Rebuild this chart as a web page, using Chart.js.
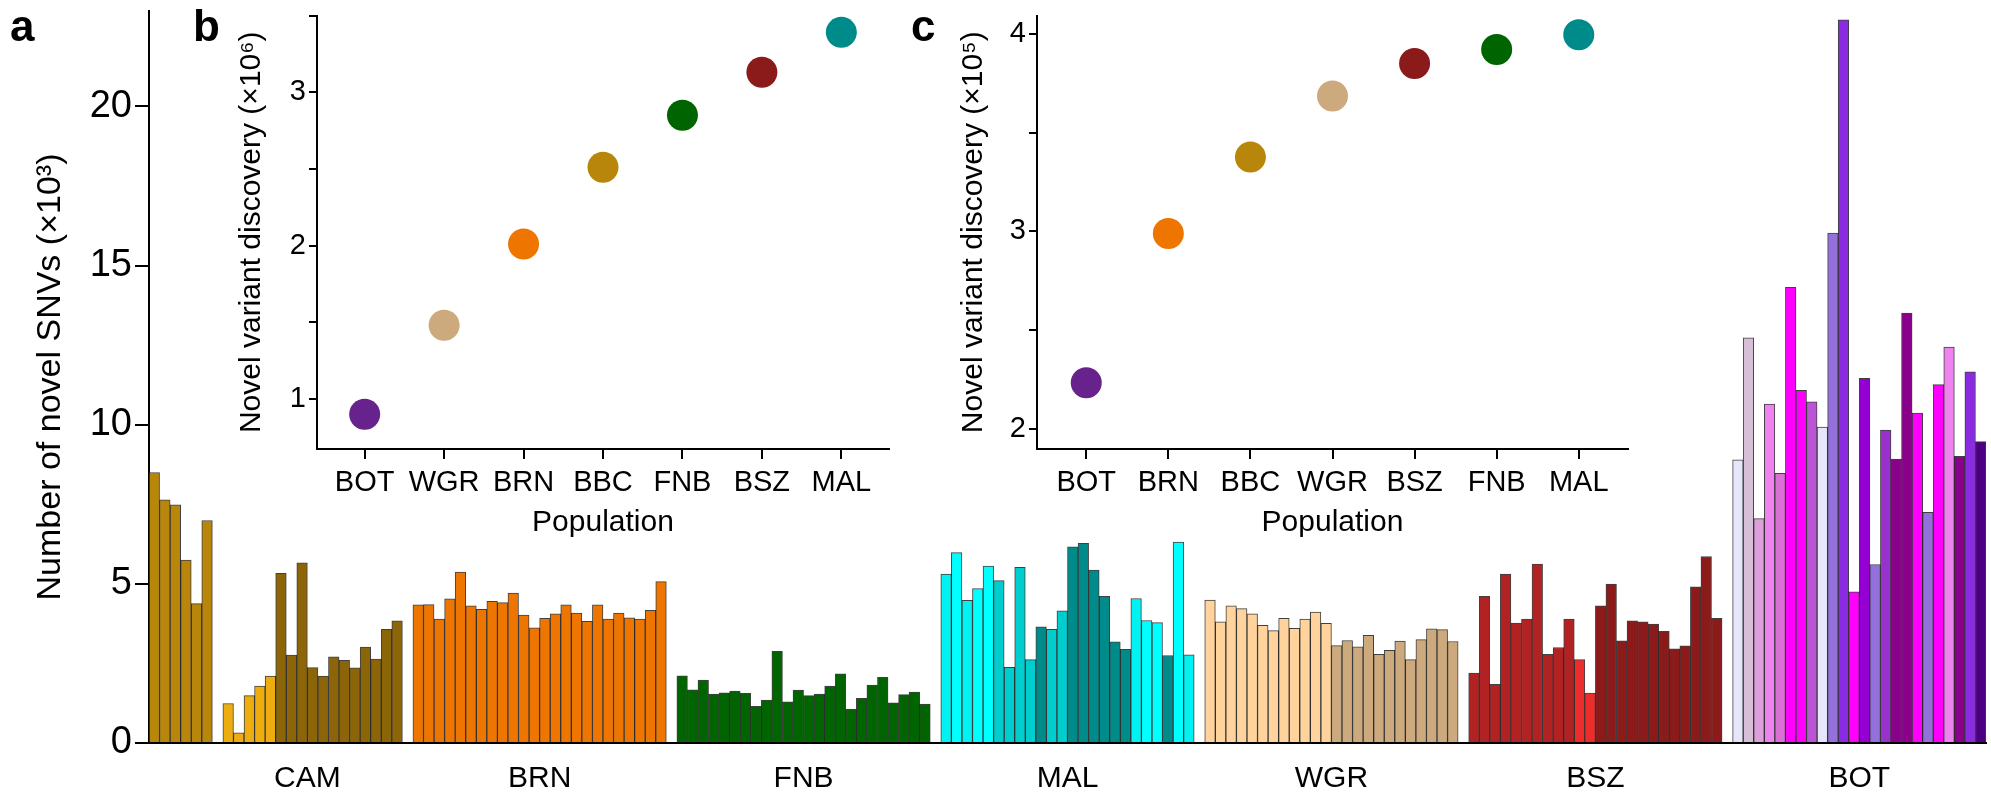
<!DOCTYPE html>
<html>
<head>
<meta charset="utf-8">
<script src="https://cdn.jsdelivr.net/npm/chart.js@4.4.0/dist/chart.umd.min.js"></script>
<style>
    body { margin: 0; background: #fff; }
    #wrap { position: relative; width: 1991px; height: 800px; overflow: hidden; }
    #wrap canvas { position: absolute; left: 0; top: 0; }
    .panel { position: absolute; font: bold 44px "Liberation Sans", Arial, sans-serif; color: #000; line-height: 44px; }
</style>
</head>
<body>
<div id="wrap">
    <canvas id="chartA" width="1991" height="800"></canvas>
    <canvas id="chartB" width="1991" height="800"></canvas>
    <canvas id="chartC" width="1991" height="800"></canvas>
    <div class="panel" style="left:10px; top:4px;">a</div>
    <div class="panel" style="left:193px; top:4px;">b</div>
    <div class="panel" style="left:911px; top:4px;">c</div>
</div>
<script>
// Painel a - SNVs novos por individuo (x10^3), null = espaço dentro do grupo
const grupos = ['CAM', 'BRN', 'FNB', 'MAL', 'WGR', 'BSZ', 'BOT'];
const valoresCAM = [8.50, 7.64, 7.48, 5.75, 4.38, 6.99, null, 1.24, 0.32, 1.49, 1.79, 2.10, 5.33, 2.76, 5.66, 2.37, 2.10, 2.71, 2.60, 2.36, 3.01, 2.64, 3.57, 3.84];
const valoresBRN = [4.34, 4.35, 3.89, 4.53, 5.37, 4.31, 4.20, 4.45, 4.41, 4.71, 4.02, 3.62, 3.92, 4.06, 4.34, 4.08, 3.82, 4.34, 3.89, 4.08, 3.93, 3.89, 4.17, 5.07];
const valoresFNB = [2.11, 1.67, 1.98, 1.54, 1.58, 1.63, 1.56, 1.15, 1.35, 2.88, 1.29, 1.66, 1.49, 1.54, 1.79, 2.17, 1.06, 1.40, 1.82, 2.06, 1.26, 1.52, 1.60, 1.22];
const valoresMAL = [5.31, 5.98, 4.48, 4.85, 5.56, 5.10, 2.38, 5.52, 2.62, 3.65, 3.57, 4.15, 6.16, 6.27, 5.43, 4.61, 3.18, 2.94, 4.54, 3.85, 3.78, 2.75, 6.31, 2.77];
const valoresWGR = [4.49, 3.81, 4.31, 4.22, 4.06, 3.70, 3.53, 3.92, 3.60, 3.89, 4.11, 3.76, 3.06, 3.22, 3.02, 3.38, 2.79, 2.91, 3.20, 2.62, 3.25, 3.59, 3.56, 3.19];
const valoresBSZ = [2.20, 4.61, 1.84, 5.31, 3.77, 3.89, 5.62, 2.79, 3.00, 3.89, 2.62, 1.57, 4.31, 4.99, 3.21, 3.84, 3.81, 3.74, 3.51, 2.96, 3.05, 4.91, 5.86, 3.92];
const valoresBOT = [8.90, 12.73, 7.05, 10.65, 8.47, 14.32, 11.08, 10.72, 9.93, 16.02, 22.72, 4.75, 11.46, 5.61, 9.83, 8.92, 13.51, 10.37, 7.25, 11.26, 12.44, 9.01, 11.66, 9.47];
const ticksA = [0, 5, 10, 15, 20];

// Painel b - descoberta de variantes novas (x10^6)
const popsB = ['BOT', 'WGR', 'BRN', 'BBC', 'FNB', 'BSZ', 'MAL'];
const valoresB = [0.90, 1.48, 2.01, 2.51, 2.85, 3.13, 3.39];
const ticksB = [1, 1.5, 2, 2.5, 3, 3.5];

// Painel c - descoberta de variantes novas (x10^5)
const popsC = ['BOT', 'BRN', 'BBC', 'WGR', 'BSZ', 'FNB', 'MAL'];
const valoresC = [2.235, 2.99, 3.376, 3.685, 3.849, 3.92, 3.995];
const ticksC = [2, 2.5, 3, 3.5, 4];

// Cores
const repete = (cor, n) => Array(n).fill(cor);
const coresCAM = [...repete('#B8860B', 6), null, ...repete('#EEAD0E', 5), ...repete('#8B6508', 12)];
const coresBRN = repete('#EE7600', 24);
const coresFNB = repete('#006400', 24);
const coresMAL = [
    '#00F2F2', '#00FFFF', '#00F2F2', '#00FFFF', '#00FFFF', '#00CDCD', '#00CDCD', '#00CDCD',
    '#00CDCD', '#008B8B', '#00CDCD', '#00CDCD', '#008B8B', '#008B8B', '#008B8B', '#008B8B',
    '#008B8B', '#008B8B', '#00F2F2', '#00FFFF', '#00FFFF', '#008B8B', '#00FFFF', '#00F2F2'
];
const coresWGR = [...repete('#FFD39B', 12), ...repete('#CDAA7D', 12)];
const coresBSZ = [...repete('#B22222', 10), ...repete('#EE2C2C', 2), ...repete('#8B1A1A', 12)];
const coresBOT = [
    '#E6E6FA', '#D8BFD8', '#DDA0DD', '#EE82EE', '#DA70D6', '#FF00FF', '#FF00FF', '#BA55D3',
    '#E6E6FA', '#9370DB', '#8A2BE2', '#FF00FF', '#9400D3', '#9370DB', '#9932CC', '#8B008B',
    '#8B008B', '#FF00FF', '#9370DB', '#FF00FF', '#EE82EE', '#8B008B', '#8A2BE2', '#4B0082'
];
const corPop = {
    BOT: '#68228B', WGR: '#CDAA7D', BRN: '#EE7600', BBC: '#B8860B',
    FNB: '#006400', BSZ: '#8B1A1A', MAL: '#008B8B'
};

const FONTE = '"Liberation Sans", Arial, Helvetica, sans-serif';
const PRETO = '#000';

// Montar posições das barras (um espaço vazio entre grupos)
const valoresGrupos = [valoresCAM, valoresBRN, valoresFNB, valoresMAL, valoresWGR, valoresBSZ, valoresBOT];
const coresGrupos = [coresCAM, coresBRN, coresFNB, coresMAL, coresWGR, coresBSZ, coresBOT];
const pontosBarras = [];
const coresBarras = [];
const posRotulos = [];
let posicao = 0;
valoresGrupos.forEach((valores, g) => {
    const inicio = posicao;
    valores.forEach((v, i) => {
        if (v !== null) {
            pontosBarras.push({ x: posicao, y: v });
            coresBarras.push(coresGrupos[g][i]);
        }
        posicao++;
    });
    // o rótulo CAM fica deslocado para a direita no original
    posRotulos.push(g === 0 ? inicio + 14.5 : inicio + (valores.length - 1) / 2);
    posicao++;
});
const totalPosicoes = posicao - 1;

function eixoComTicks(lista) {
    return scale => { scale.ticks = lista.map(v => ({ value: v })); };
}

// Fixar o tamanho do eixo e tirar o espaço extra dos rótulos
function tamanhoFixo(prop, valor) {
    return scale => {
        scale[prop] = valor;
        scale.paddingTop = 0;
        scale.paddingBottom = 0;
        scale.paddingLeft = 0;
        scale.paddingRight = 0;
    };
}

// Gráfico principal (a)
new Chart(document.getElementById('chartA'), {
    type: 'bar',
    data: {
        datasets: [{
            data: pontosBarras,
            backgroundColor: coresBarras,
            borderColor: 'rgba(0, 0, 0, 0.75)',
            borderWidth: 1,
            barPercentage: 1,
            categoryPercentage: 1
        }]
    },
    options: {
        responsive: false,
        animation: false,
        layout: { padding: { left: 26, top: 11, right: 5, bottom: 0 } },
        plugins: { legend: { display: false }, tooltip: { enabled: false } },
        scales: {
            x: {
                type: 'linear',
                offset: false,
                min: -0.5,
                max: totalPosicoes - 0.5,
                grid: { display: false, offset: false },
                border: { display: true, color: PRETO, width: 2 },
                afterBuildTicks: eixoComTicks(posRotulos),
                afterFit: tamanhoFixo('height', 57),
                ticks: {
                    autoSkip: false,
                    maxRotation: 0,
                    padding: 10,
                    color: PRETO,
                    font: { family: FONTE, size: 30 },
                    callback: (v, i) => grupos[i]
                }
            },
            y: {
                min: 0,
                max: 23,
                afterBuildTicks: eixoComTicks(ticksA),
                afterFit: tamanhoFixo('width', 123),
                grid: { drawOnChartArea: false, drawTicks: true, tickLength: 14, color: PRETO, lineWidth: 2 },
                border: { display: true, color: PRETO, width: 2 },
                ticks: { padding: 3, color: PRETO, font: { family: FONTE, size: 38 } },
                title: {
                    display: true,
                    text: 'Number of novel SNVs (×10³)',
                    color: PRETO,
                    font: { family: FONTE, size: 34 },
                    padding: { top: 4, bottom: 4 }
                }
            }
        }
    }
});

// Gráficos inseridos (b e c)
function criarInserido(id, pops, valores, ticksY, cfg) {
    return new Chart(document.getElementById(id), {
        type: 'scatter',
        data: {
            datasets: [{
                data: valores.map((v, i) => ({ x: i, y: v })),
                pointBackgroundColor: pops.map(p => corPop[p]),
                pointBorderWidth: 0,
                pointRadius: 15.5
            }]
        },
        options: {
            responsive: false,
            animation: false,
            layout: { padding: cfg.padding },
            plugins: { legend: { display: false }, tooltip: { enabled: false } },
            scales: {
                x: {
                    type: 'linear',
                    min: -0.6,
                    max: cfg.xMax,
                    afterBuildTicks: eixoComTicks(pops.map((p, i) => i)),
                    afterFit: tamanhoFixo('height', cfg.alturaX),
                    grid: { drawOnChartArea: false, drawTicks: true, tickLength: 10, color: PRETO, lineWidth: 2 },
                    border: { display: true, color: PRETO, width: 2 },
                    ticks: {
                        autoSkip: false,
                        maxRotation: 0,
                        padding: 7,
                        color: PRETO,
                        font: { family: FONTE, size: 29 },
                        callback: (v, i) => pops[i]
                    },
                    title: {
                        display: true,
                        text: 'Population',
                        color: PRETO,
                        font: { family: FONTE, size: 30 },
                        padding: { top: 4, bottom: 4 }
                    }
                },
                y: {
                    min: cfg.yMin,
                    max: cfg.yMax,
                    afterBuildTicks: eixoComTicks(ticksY),
                    afterFit: tamanhoFixo('width', cfg.larguraY),
                    grid: { drawOnChartArea: false, drawTicks: true, tickLength: 8, color: PRETO, lineWidth: 2 },
                    border: { display: true, color: PRETO, width: 2 },
                    ticks: {
                        padding: 3,
                        color: PRETO,
                        font: { family: FONTE, size: 29 },
                        callback: v => (Number.isInteger(v) ? String(v) : '')
                    },
                    title: {
                        display: true,
                        text: cfg.tituloY,
                        color: PRETO,
                        font: { family: FONTE, size: 30 },
                        padding: { top: 4, bottom: 4 }
                    }
                }
            }
        }
    });
}

criarInserido('chartB', popsB, valoresB, ticksB, {
    padding: { left: 230, top: 15, right: 1102, bottom: 255 },
    larguraY: 87,
    alturaX: 96,
    xMax: 6.6,
    yMin: 0.673,
    yMax: 3.5,
    tituloY: 'Novel variant discovery (×10⁶)'
});

criarInserido('chartC', popsC, valoresC, ticksC, {
    padding: { left: 952, top: 14, right: 363, bottom: 255 },
    larguraY: 85,
    alturaX: 96,
    xMax: 6.6,
    yMin: 1.90,
    yMax: 4.092,
    tituloY: 'Novel variant discovery (×10⁵)'
});
</script>
</body>
</html>
